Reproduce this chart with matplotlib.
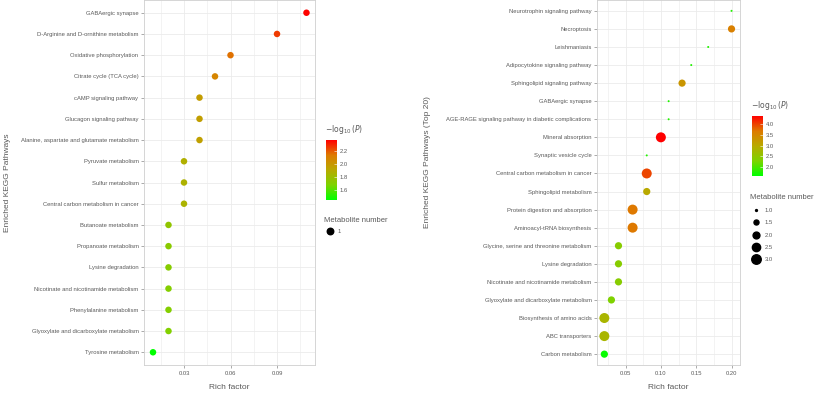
import numpy as np
import matplotlib.pyplot as plt
from matplotlib.colors import LinearSegmentedColormap, Normalize
from matplotlib.lines import Line2D
import matplotlib.cm as cm

plt.rcParams['font.family'] = ['Liberation Sans', 'DejaVu Sans']

# left panel: all enriched pathways
left_paths = ['GABAergic synapse', 'D-Arginine and D-ornithine metabolism',
              'Oxidative phosphorylation', 'Citrate cycle (TCA cycle)',
              'cAMP signaling pathway', 'Glucagon signaling pathway',
              'Alanine, aspartate and glutamate metabolism', 'Pyruvate metabolism',
              'Sulfur metabolism', 'Central carbon metabolism in cancer',
              'Butanoate metabolism', 'Propanoate metabolism', 'Lysine degradation',
              'Nicotinate and nicotinamide metabolism', 'Phenylalanine metabolism',
              'Glyoxylate and dicarboxylate metabolism', 'Tyrosine metabolism']
left_rich = [0.109, 0.09, 0.06, 0.05, 0.04, 0.04, 0.04, 0.03, 0.03, 0.03,
             0.02, 0.02, 0.02, 0.02, 0.02, 0.02, 0.01]
left_logp = [2.36, 2.25, 2.15, 2.08, 1.97, 1.96, 1.95, 1.87, 1.86, 1.85,
             1.75, 1.72, 1.71, 1.70, 1.70, 1.69, 1.44]
left_num = [1] * 17

# right panel: top 20
right_paths = ['Neurotrophin signaling pathway', 'Necroptosis', 'Leishmaniasis',
               'Adipocytokine signaling pathway', 'Sphingolipid signaling pathway',
               'GABAergic synapse', 'AGE-RAGE signaling pathway in diabetic complications',
               'Mineral absorption', 'Synaptic vesicle cycle',
               'Central carbon metabolism in cancer', 'Sphingolipid metabolism',
               'Protein digestion and absorption', 'Aminoacyl-tRNA biosynthesis',
               'Glycine, serine and threonine metabolism', 'Lysine degradation',
               'Nicotinate and nicotinamide metabolism',
               'Glyoxylate and dicarboxylate metabolism', 'Biosynthesis of amino acids',
               'ABC transporters', 'Carbon metabolism']
right_rich = [0.20, 0.20, 0.167, 0.143, 0.13, 0.111, 0.111, 0.10, 0.08, 0.08,
              0.08, 0.06, 0.06, 0.04, 0.04, 0.04, 0.03, 0.02, 0.02, 0.02]
right_logp = [1.75, 3.6, 1.75, 1.75, 3.3, 1.75, 1.75, 4.4, 1.75, 4.0,
              3.0, 3.7, 3.7, 2.4, 2.4, 2.4, 2.3, 2.8, 2.8, 1.6]
right_num = [1, 2, 1, 1, 2, 1, 1, 3, 1, 3, 2, 3, 3, 2, 2, 2, 2, 3, 3, 2]
size_breaks = [1.0, 1.5, 2.0, 2.5, 3.0]

cmap = LinearSegmentedColormap.from_list(
    'gr', ['#00FF00', '#7DD300', '#B8AA00', '#DE7A00', '#FF0000'])

TXT = '#5a5a5a'
GRID = '#ebebeb'


def size_of(n):
    d_px = np.sqrt(4 + 48 * (np.asarray(n, float) - 1))
    return (d_px * 0.72) ** 2


fig = plt.figure(figsize=(8.23, 3.94), dpi=100)
H = 394.0
W = 823.0


def panel(x0, x1, paths, rich, logp, sizes, xlim, xticks, ylabel, vmin, vmax):
    ax = fig.add_axes([x0 / W, 29 / H, (x1 - x0) / W, 365 / H])
    ypos = np.arange(len(paths))[::-1]
    norm = Normalize(vmin, vmax)
    ax.scatter(rich, ypos, s=sizes, c=logp, cmap=cmap, norm=norm,
               linewidths=0, zorder=3)
    ax.set_yticks(ypos)
    ax.set_yticklabels(paths, fontsize=4.2, color=TXT)
    ax.set_ylim(-0.6, len(paths) - 0.4)
    ax.set_xlim(*xlim)
    ax.set_xticks(xticks)
    ax.set_xticklabels(['%.2f' % t for t in xticks], fontsize=4.2, color=TXT)
    minor = np.array(xticks[:-1]) + np.diff(xticks) / 2
    minor = np.concatenate([[xticks[0] - (xticks[1] - xticks[0]) / 2], minor,
                            [xticks[-1] + (xticks[1] - xticks[0]) / 2]])
    for m in minor:
        ax.axvline(m, color=GRID, lw=0.4, zorder=0)
    ax.grid(True, color=GRID, lw=0.6, zorder=0)
    ax.set_axisbelow(True)
    ax.tick_params(axis='both', length=2, width=0.5, color='#888888', pad=2)
    for sp in ax.spines.values():
        sp.set_color('#cfcfcf')
        sp.set_linewidth(0.6)
    ax.set_xlabel('Rich factor', fontsize=6, color=TXT, labelpad=6)
    ax.set_ylabel(ylabel, fontsize=6, color=TXT)
    return ax, norm


axl, norml = panel(144, 315, left_paths, left_rich, left_logp,
                   [(6.5 * 0.72) ** 2] * len(left_paths),
                   (0.0042, 0.1145), [0.03, 0.06, 0.09],
                   'Enriched KEGG Pathways', 1.44, 2.365)
axl.yaxis.set_label_coords(-0.775, 0.5)

axr, normr = panel(597, 740, right_paths, right_rich, right_logp,
                   size_of(right_num), (0.0096, 0.212), [0.05, 0.10, 0.15, 0.20],
                   'Enriched KEGG Pathways (Top 20)', 1.56, 4.4)
axr.yaxis.set_label_coords(-1.16, 0.557)


def colorbar(x, y_top, y_bot, norm, ticks):
    cax = fig.add_axes([x / W, (H - y_bot) / H, 11 / W, (y_bot - y_top) / H])
    sm = cm.ScalarMappable(norm=norm, cmap=cmap)
    cb = fig.colorbar(sm, cax=cax, ticks=ticks)
    cb.outline.set_visible(False)
    cb.ax.tick_params(labelsize=4.2, length=2, width=0.4, color='white',
                      labelcolor=TXT, pad=2, direction='in')
    cb.ax.set_yticklabels(['%.1f' % t for t in ticks])
    fig.text((x - 1) / W, (H - y_top + 4) / H, r'$-\log_{10}(P)$',
             fontsize=5.5, color=TXT, va='bottom', ha='left')
    return cb


colorbar(326, 140, 200, norml, [1.6, 1.8, 2.0, 2.2])
colorbar(752, 116, 176, normr, [2.0, 2.5, 3.0, 3.5, 4.0])

# size legends
h_left = [Line2D([], [], ls='', marker='o', color='black',
                 markersize=6.5 * 0.72, label='1')]
leg = fig.legend(handles=h_left, title='Metabolite number', loc='upper left',
                 bbox_to_anchor=(322 / W, (H - 215) / H), frameon=False,
                 fontsize=4.2, title_fontsize=5.5, alignment='left',
                 handletextpad=0.3, labelspacing=0.8, borderaxespad=0)
for t in leg.get_texts():
    t.set_color(TXT)
leg.get_title().set_color(TXT)

h_right = [Line2D([], [], ls='', marker='o', color='black',
                  markersize=np.sqrt(size_of(b)) * 0.95, label='%.1f' % b)
           for b in size_breaks]
leg2 = fig.legend(handles=h_right, title='Metabolite number', loc='upper left',
                  bbox_to_anchor=(748 / W, (H - 192) / H), frameon=False,
                  fontsize=4.2, title_fontsize=5.5, alignment='left',
                  handletextpad=0.4, labelspacing=1.2, borderaxespad=0)
for t in leg2.get_texts():
    t.set_color(TXT)
leg2.get_title().set_color(TXT)

fig.savefig('out.png', dpi=100)
